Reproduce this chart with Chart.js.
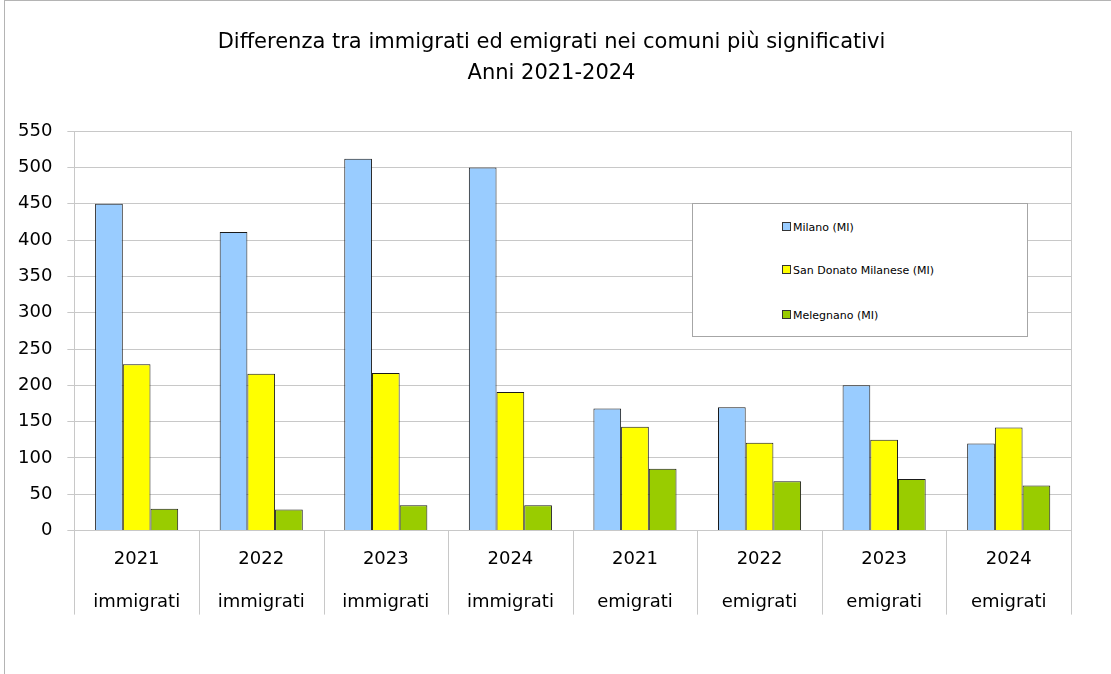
<!DOCTYPE html>
<html>
<head>
<meta charset="utf-8">
<script src="https://cdn.jsdelivr.net/npm/chart.js@4/dist/chart.umd.min.js"></script>
<style>
  html, body { margin: 0; padding: 0; background: #fff; overflow: hidden; }
  #wrap { position: relative; width: 1111px; height: 674px; }
  #frame { position: absolute; left: 4px; top: 0; width: 1200px; height: 800px;
           border: 1px solid #b4b4b4; border-width: 1px 0 0 1px; box-sizing: border-box; }
  canvas { position: absolute; left: 0; top: 0; }
  #legend { position: absolute; left: 692px; top: 203px; width: 336px; height: 134px;
            border: 1px solid #a6a6a6; box-sizing: border-box; background: #fff;
            font-family: "DejaVu Sans", sans-serif; font-size: 11px; color: #000; }
  #legend .item { position: absolute; left: 89px; height: 14px; line-height: 14px; white-space: nowrap; }
  #legend .box { display: inline-block; width: 7px; height: 7px; border: 1px solid #333;
                 margin-right: 2px; vertical-align: 0px; }
</style>
</head>
<body>
<div id="wrap">
  <div id="frame"></div>
  <canvas id="chart" width="1111" height="674"></canvas>
  <div id="legend"></div>
</div>
<script>
// anni e tipo di movimento
const anni = ['2021', '2022', '2023', '2024', '2021', '2022', '2023', '2024'];
const tipi = ['immigrati', 'immigrati', 'immigrati', 'immigrati', 'emigrati', 'emigrati', 'emigrati', 'emigrati'];

const comuni = ['Milano (MI)', 'San Donato Milanese (MI)', 'Melegnano (MI)'];
const milano = [450, 411, 512, 500, 168, 170, 200, 120];
const sanDonato = [229, 216, 217, 191, 143, 121, 125, 142];
const melegnano = [30, 29, 35, 35, 85, 68, 71, 62];
const colori = ['#99ccff', '#ffff00', '#99cc00'];

const titolo = ['Differenza tra immigrati ed emigrati nei comuni più significativi', 'Anni 2021-2024'];
const yMax = 550;
const yStep = 50;

const font = '"DejaVu Sans", sans-serif';
const grigio = '#c8c8c8';

const labels = anni.map((a, i) => [a, tipi[i]]);
const serie = [milano, sanDonato, melegnano];

// separatori verticali sotto l'asse x, fra le categorie
const separatori = {
    id: 'separatori',
    afterDraw(chart) {
        const x = chart.scales.x;
        const ctx = chart.ctx;
        const n = x.ticks.length;
        const pos = [x.left];
        for (let i = 1; i < n; i++) {
            pos.push((x.getPixelForTick(i - 1) + x.getPixelForTick(i)) / 2);
        }
        pos.push(x.right);
        ctx.save();
        ctx.strokeStyle = grigio;
        ctx.lineWidth = 1;
        pos.forEach(p => {
            const px = Math.round(p) + 0.5;
            ctx.beginPath();
            ctx.moveTo(px, x.top);
            ctx.lineTo(px, x.top + 84);
            ctx.stroke();
        });
        ctx.restore();
    }
};

const chart = new Chart(document.getElementById('chart'), {
    type: 'bar',
    data: {
        labels: labels,
        datasets: serie.map((d, i) => ({
            label: comuni[i],
            data: d,
            backgroundColor: colori[i],
            borderColor: '#1a1a1a',
            borderWidth: 1,
            categoryPercentage: 0.667,
            barPercentage: 1.0
        }))
    },
    options: {
        responsive: false,
        animation: false,
        devicePixelRatio: 1,
        layout: { padding: { left: 3, right: 11, top: 0, bottom: 43 } },
        plugins: {
            legend: { display: false },
            tooltip: { enabled: false },
            title: {
                display: true,
                text: titolo,
                color: '#000',
                font: { family: font, size: 21, weight: 'normal', lineHeight: 1.48 },
                padding: { top: 27, bottom: 42 }
            }
        },
        scales: {
            x: {
                grid: { drawOnChartArea: false, drawTicks: false },
                border: { display: true, color: grigio, width: 1 },
                ticks: {
                    color: '#000',
                    font: { family: font, size: 18, lineHeight: 2.4 },
                    padding: 7,
                    maxRotation: 0,
                    autoSkip: false
                }
            },
            y: {
                min: 0,
                max: yMax,
                ticks: {
                    stepSize: yStep,
                    color: '#000',
                    font: { family: font, size: 18 },
                    padding: 15
                },
                grid: { color: grigio, tickLength: 7, lineWidth: 1 },
                border: { display: true, color: grigio, width: 1 }
            },
            y2: {
                position: 'right',
                min: 0,
                max: yMax,
                ticks: { display: false },
                grid: { drawOnChartArea: false, drawTicks: false },
                border: { display: true, color: grigio, width: 1 },
                afterFit(scale) { scale.width = 29; }
            }
        }
    },
    plugins: [separatori]
});

// legenda HTML costruita dai dataset del grafico
const legendEl = document.getElementById('legend');
const righe = [17, 60, 105];
chart.data.datasets.forEach((ds, i) => {
    const item = document.createElement('div');
    item.className = 'item';
    item.style.top = righe[i] + 'px';
    const box = document.createElement('span');
    box.className = 'box';
    box.style.background = ds.backgroundColor;
    item.appendChild(box);
    item.appendChild(document.createTextNode(ds.label));
    legendEl.appendChild(item);
});
</script>
</body>
</html>
